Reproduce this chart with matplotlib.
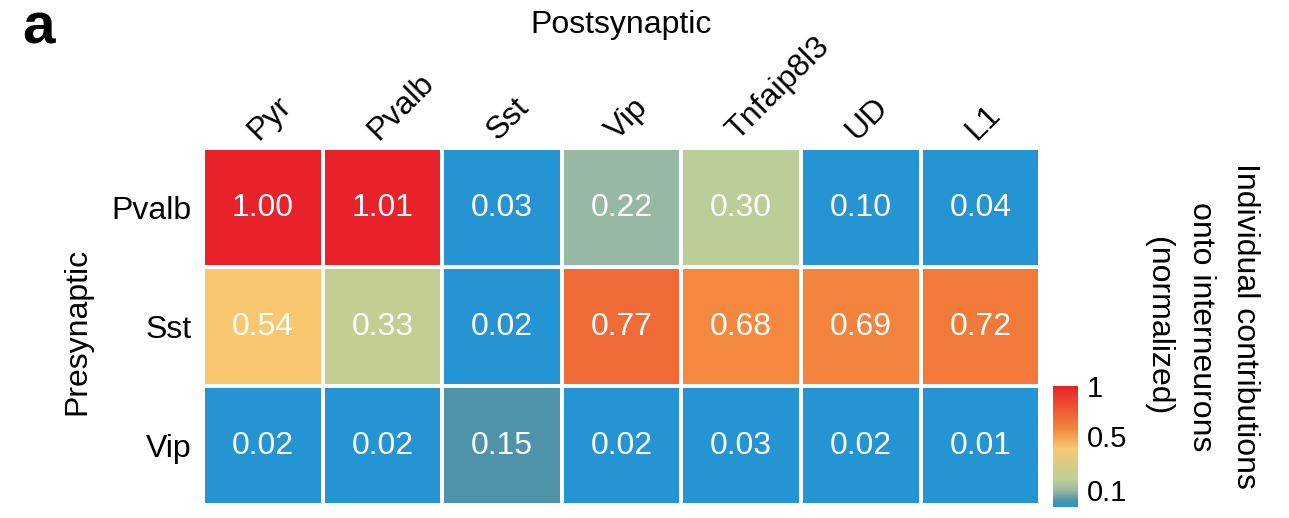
import numpy as np
import matplotlib.pyplot as plt
from matplotlib.colors import LinearSegmentedColormap, Normalize
from matplotlib.transforms import ScaledTranslation

plt.rcParams['font.family'] = ['Liberation Sans', 'DejaVu Sans']

presynaptic = ['Pvalb', 'Sst', 'Vip']
postsynaptic = ['Pyr', 'Pvalb', 'Sst', 'Vip', 'Tnfaip8l3', 'UD', 'L1']

pvalb_row = [1.00, 1.01, 0.03, 0.22, 0.30, 0.10, 0.04]
sst_row = [0.54, 0.33, 0.02, 0.77, 0.68, 0.69, 0.72]
vip_row = [0.02, 0.02, 0.15, 0.02, 0.03, 0.02, 0.01]

cbar_ticks = [0.1, 0.5, 1]
cbar_ticklabels = ['0.1', '0.5', '1']

values = np.array([pvalb_row, sst_row, vip_row])

# blue -> greyish green -> yellow -> orange -> red
vmin, vmax = 0.1, 1.0
def pos(v):
    return (v - vmin) / (vmax - vmin)

cmap = LinearSegmentedColormap.from_list('contrib', [
    (pos(0.10), '#2594d3'),
    (pos(0.15), '#4f93ab'),
    (pos(0.22), '#97b8a2'),
    (pos(0.30), '#bccf97'),
    (pos(0.54), '#f8c870'),
    (pos(0.68), '#f3873e'),
    (pos(0.77), '#ee6a37'),
    (pos(1.00), '#e8212a'),
])
norm = Normalize(vmin=vmin, vmax=vmax, clip=True)

fs = 23

fig = plt.figure(figsize=(12.89, 5.18), dpi=100)
ax = fig.add_axes([0.1575, 0.025, 0.6495, 0.689])

mesh = ax.pcolormesh(values, cmap=cmap, norm=norm, edgecolors='white', linewidth=1.5)
ax.set_xlim(0, len(postsynaptic))
ax.set_ylim(len(presynaptic), 0)

for i in range(len(presynaptic)):
    for j in range(len(postsynaptic)):
        ax.text(j + 0.5, i + 0.5, f'{values[i, j]:.2f}', ha='center', va='center',
                color='white', fontsize=fs)

ax.set_yticks(np.arange(len(presynaptic)) + 0.5)
ax.set_yticklabels(presynaptic, fontsize=fs)
ax.set_xticks(np.arange(len(postsynaptic)) + 0.5)
ax.xaxis.tick_top()
ax.set_xticklabels(postsynaptic, fontsize=fs, rotation=45, ha='left', va='center',
                   rotation_mode='anchor')
ax.tick_params(axis='y', length=0, pad=8)
ax.tick_params(axis='x', length=0, pad=9)
# nudge the slanted column names a little to the left
shift = ScaledTranslation(-10 / 100, 0, fig.dpi_scale_trans)
for lbl in ax.get_xticklabels():
    lbl.set_transform(lbl.get_transform() + shift)
for sp in ax.spines.values():
    sp.set_visible(False)

cax = fig.add_axes([0.817, 0.021, 0.0194, 0.234])
cb = fig.colorbar(mesh, cax=cax, ticks=cbar_ticks)
cb.ax.set_yticklabels(cbar_ticklabels, fontsize=21)
cb.ax.tick_params(length=0, pad=6)
cb.outline.set_visible(False)
tl = cb.ax.get_yticklabels()
tl[0].set_va('bottom')
tl[1].set_va('bottom')

fig.text(0.932, 0.37, 'Individual contributions\nonto interneurons\n(normalized)',
         rotation=-90, ha='center', va='center', fontsize=fs, linespacing=1.6)
fig.text(0.482, 0.952, 'Postsynaptic', ha='center', va='center', fontsize=fs)
fig.text(0.06, 0.36, 'Presynaptic', rotation=90, ha='center', va='center', fontsize=fs)
fig.text(0.017, 0.945, 'a', ha='left', va='center', fontsize=42, fontweight='bold')

fig.savefig('out.png', dpi=100)
